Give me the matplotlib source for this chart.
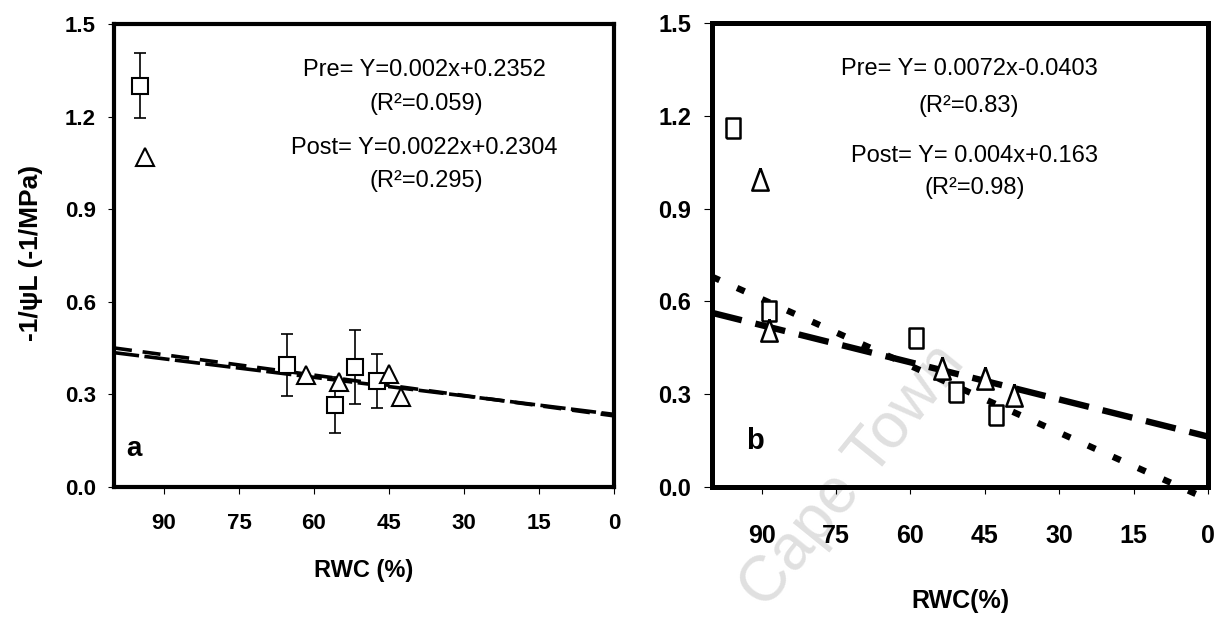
import matplotlib

matplotlib.use("Agg")
import matplotlib.pyplot as plt
import numpy as np

plt.rcParams["font.family"] = ["Liberation Sans", "DejaVu Sans"]

# Panel a: RWC (%) vs -1/psiL, squares = pre, triangles = post
pre_a_rwc = [94.8, 65.3, 55.7, 51.8, 47.3]
pre_a_val = [1.30, 0.395, 0.266, 0.390, 0.343]
pre_a_err = [0.105, 0.10, 0.09, 0.12, 0.087]
post_a_rwc = [93.8, 61.6, 55.0, 45.0, 42.5]
post_a_val = [1.07, 0.363, 0.341, 0.366, 0.291]

# Panel b
pre_b_rwc = [95.7, 88.6, 58.9, 50.9, 42.8]
pre_b_val = [1.16, 0.570, 0.483, 0.308, 0.233]
post_b_rwc = [90.3, 88.5, 53.6, 45.0, 39.1]
post_b_val = [0.995, 0.508, 0.384, 0.353, 0.297]

# regression fits (slope, intercept)
fit_pre_a = (0.002, 0.2352)
fit_post_a = (0.0022, 0.2304)
fit_pre_b = (0.0072, -0.0403)
fit_post_b = (0.004, 0.163)

eq_a = ["Pre= Y=0.002x+0.2352", "(R\u00b2=0.059)", "Post= Y=0.0022x+0.2304", "(R\u00b2=0.295)"]
eq_b = ["Pre= Y= 0.0072x-0.0403", "(R\u00b2=0.83)", "Post= Y= 0.004x+0.163", "(R\u00b2=0.98)"]

x_ticks = [90, 75, 60, 45, 30, 15, 0]
y_ticks = [0.0, 0.3, 0.6, 0.9, 1.2, 1.5]
x_fit = np.array([100.0, 0.0])

fig = plt.figure(figsize=(12.32, 6.24), dpi=100)
ax_a = fig.add_axes([0.0925, 0.2196, 0.4058, 0.742])
ax_b = fig.add_axes([0.5779, 0.2196, 0.4026, 0.7436])

# faint watermark behind both panels
fig.text(0.692, 0.236, "Cape Town", rotation=51, ha="center", va="center",
         fontsize=46, color="#e0e0e0", zorder=-1)


def style_axis(ax, tick_size_x, tick_size_y, spine_w, ylen, xpad):
    ax.set_facecolor("none")
    ax.set_xlim(100, 0)
    ax.set_ylim(0, 1.5)
    ax.set_xticks(x_ticks)
    ax.set_xticklabels([str(v) for v in x_ticks], fontsize=tick_size_x, fontweight="bold")
    ax.set_yticks(y_ticks)
    ax.set_yticklabels([f"{v:.1f}" for v in y_ticks], fontsize=tick_size_y, fontweight="bold")
    for s in ax.spines.values():
        s.set_linewidth(spine_w)
    ax.tick_params(axis="y", direction="out", length=ylen, width=0.8, pad=9)
    ax.tick_params(axis="x", direction="out", length=5, width=0.8, pad=xpad)


# ---- panel a ----
style_axis(ax_a, 16, 16, 3.0, 4, 14)

ax_a.plot(x_fit, fit_pre_a[0] * x_fit + fit_pre_a[1], color="black", lw=2.6,
          dashes=(7, 1.5), zorder=2)
ax_a.plot(x_fit, fit_post_a[0] * x_fit + fit_post_a[1], color="black", lw=2.6,
          dashes=(5, 3), zorder=2)
ax_a.errorbar(pre_a_rwc, pre_a_val, yerr=pre_a_err, fmt="none", ecolor="black",
              elinewidth=1.2, capsize=4.3, capthick=1.2, zorder=3)
ax_a.plot(pre_a_rwc, pre_a_val, ls="none", marker="s", ms=11.5, mfc="white",
          mec="black", mew=1.5, zorder=4)
ax_a.plot(post_a_rwc, post_a_val, ls="none", marker="^", ms=12.5, mfc="white",
          mec="black", mew=1.5, zorder=4)

for txt, (fx, fy) in zip(eq_a, [(0.622, 0.901), (0.624, 0.828), (0.621, 0.732), (0.624, 0.661)]):
    ax_a.text(fx, fy, txt, transform=ax_a.transAxes, ha="center", va="center", fontsize=17)
ax_a.text(0.04, 0.082, "a", transform=ax_a.transAxes, ha="center", va="center",
          fontsize=20, fontweight="bold")

ax_a.set_xlabel("RWC (%)", fontsize=17, fontweight="bold")
ax_a.xaxis.set_label_coords(0.5, -0.155)
ax_a.set_ylabel("-1/\u03c8L (-1/MPa)", fontsize=19, fontweight="bold")
ax_a.yaxis.set_label_coords(-0.142, 0.505)

# ---- panel b ----
style_axis(ax_b, 18, 17, 3.6, 6, 22)

ax_b.plot(x_fit, fit_pre_b[0] * x_fit + fit_pre_b[1], color="black", lw=4.6,
          dashes=(1.3, 3.0), clip_on=False, zorder=2)
ax_b.plot(x_fit, fit_post_b[0] * x_fit + fit_post_b[1], color="black", lw=4.6,
          dashes=(4.8, 2.2), zorder=2)

rect_marker = [(-0.69, -1), (0.69, -1), (0.69, 1), (-0.69, 1), (-0.69, -1)]
tri_marker = [(0, 1), (-0.74, -1), (0.74, -1), (0, 1)]
ax_b.plot(pre_b_rwc, pre_b_val, ls="none", marker=rect_marker, ms=14.5, mfc="white",
          mec="black", mew=1.8, zorder=4)
ax_b.plot(post_b_rwc, post_b_val, ls="none", marker=tri_marker, ms=16, mfc="white",
          mec="black", mew=1.8, zorder=4)

for txt, (fx, fy) in zip(eq_b, [(0.519, 0.900), (0.517, 0.822), (0.530, 0.713), (0.529, 0.645)]):
    ax_b.text(fx, fy, txt, transform=ax_b.transAxes, ha="center", va="center", fontsize=17)
ax_b.text(0.087, 0.099, "b", transform=ax_b.transAxes, ha="center", va="center",
          fontsize=21, fontweight="bold")

ax_b.set_xlabel("RWC(%)", fontsize=18, fontweight="bold")
ax_b.xaxis.set_label_coords(0.5, -0.22)

fig.savefig("out.png", dpi=100)
plt.close(fig)
